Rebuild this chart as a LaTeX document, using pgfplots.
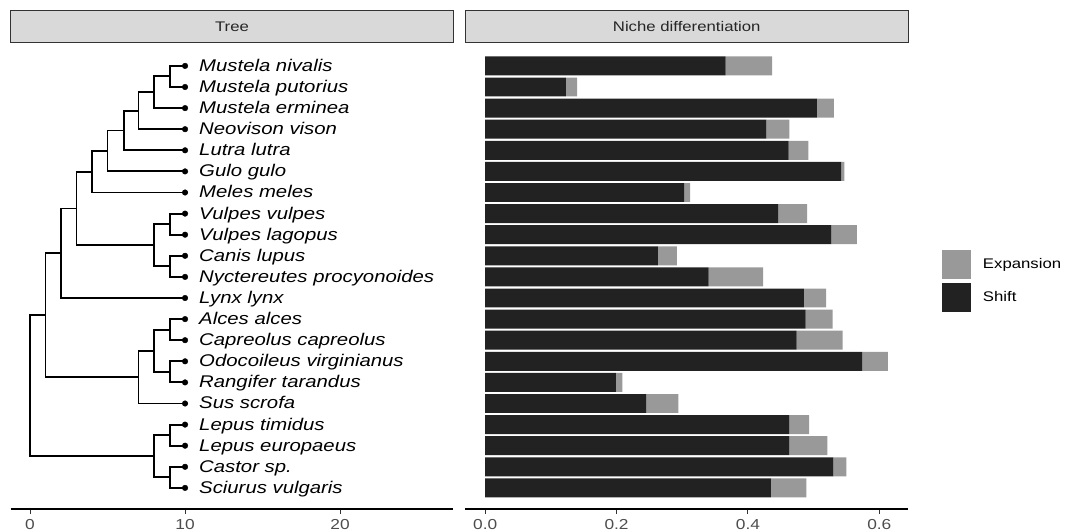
\documentclass[border=0pt]{standalone}
\usepackage{fontspec}
\setmainfont{Liberation Sans}[FakeStretch=1.2]
\usepackage{pgfplots}
\usepackage{pgfplotstable}
\pgfplotsset{compat=1.18}
\definecolor{shiftc}{HTML}{222222}
\definecolor{expc}{HTML}{999999}
\definecolor{stripfill}{HTML}{D9D9D9}
\definecolor{stripdraw}{HTML}{333333}
\definecolor{ticktext}{HTML}{4D4D4D}

\pgfplotstableread{
y shift exp
21 0.366 0.071
20 0.123 0.017
19 0.505 0.026
18 0.428 0.035
17 0.462 0.030
16 0.542 0.005
15 0.303 0.009
14 0.446 0.044
13 0.527 0.039
12 0.263 0.029
11 0.340 0.083
10 0.485 0.034
9 0.488 0.041
8 0.474 0.070
7 0.574 0.039
6 0.199 0.010
5 0.245 0.049
4 0.463 0.030
3 0.463 0.058
2 0.530 0.020
1 0.435 0.054
}\bardata

\newcommand{\lab}[2]{\node[anchor=base west, inner sep=0pt, yshift=-5.5bp, font=\fontsize{17}{19}\selectfont\itshape] at (axis cs:10.9,#1) {#2};}

\begin{document}
\begin{tikzpicture}
\useasboundingbox (0bp,0bp) rectangle (1073bp,532bp);
% strips
\draw[fill=stripfill, draw=stripdraw, line width=0.8bp] (10.5bp,489.3bp) rectangle (453.5bp,521.3bp);
\node[font=\fontsize{14}{16}\selectfont, text=black!85] at (232bp,505.3bp) {Tree};
\draw[fill=stripfill, draw=stripdraw, line width=0.8bp] (465.5bp,489.3bp) rectangle (908bp,521.3bp);
\node[font=\fontsize{14}{16}\selectfont, text=black!85] at (686.75bp,505.3bp) {Niche differentiation};

\begin{axis}[
 at={(10.7bp,23bp)}, anchor=south west, scale only axis,
 width=442.6bp, height=464.2bp,
 xmin=-1.245, xmax=27.3, ymin=0, ymax=22,
 axis x line*=bottom, axis y line=none,
 axis line style={-, line width=1.5bp, black},
 xtick={0,10,20}, ytick=\empty,
 tick align=outside, major tick length=4.5bp,
 tick style={line width=1bp, color=stripdraw},
 xticklabel style={font=\fontsize{14.5}{16}\selectfont, text=ticktext, inner sep=0pt, yshift=-5.5bp},
 /pgf/number format/assume math mode=true,
 clip=false,
 unbounded coords=jump,
]
\addplot[line width=1.9bp, black, mark=none, line cap=rect] coordinates {
(10,21) (9,21) (9,20) (10,20) (nan,nan)
(9,20.5) (8,20.5) (8,19) (10,19) (nan,nan)
(8,19.75) (7,19.75) (7,18) (10,18) (nan,nan)
(7,18.875) (6.05,18.875) (6.05,17) (10,17) (nan,nan)
(6.05,17.9375) (5,17.9375) (5,16) (10,16) (nan,nan)
(5,16.96875) (4,16.96875) (4,15) (10,15) (nan,nan)
(10,14) (9,14) (9,13) (10,13) (nan,nan)
(10,12) (9,12) (9,11) (10,11) (nan,nan)
(9,13.5) (8,13.5) (8,11.5) (9,11.5) (nan,nan)
(4,15.984375) (3,15.984375) (3,12.5) (8,12.5) (nan,nan)
(3,14.2421875) (2,14.2421875) (2,10) (10,10) (nan,nan)
(10,9) (9,9) (9,8) (10,8) (nan,nan)
(10,7) (9,7) (9,6) (10,6) (nan,nan)
(9,8.5) (8,8.5) (8,6.5) (9,6.5) (nan,nan)
(8,7.5) (7,7.5) (7,5) (10,5) (nan,nan)
(2,12.12109) (1,12.12109) (1,6.25) (7,6.25) (nan,nan)
(10,4) (9,4) (9,3) (10,3) (nan,nan)
(10,2) (9,2) (9,1) (10,1) (nan,nan)
(9,3.5) (8,3.5) (8,1.5) (9,1.5) (nan,nan)
(1,9.18555) (0,9.18555) (0,2.5) (8,2.5)
};
\addplot[only marks, mark=*, mark size=2.8bp, black] coordinates {
(10,1) (10,2) (10,3) (10,4) (10,5) (10,6) (10,7) (10,8) (10,9) (10,10) (10,11)
(10,12) (10,13) (10,14) (10,15) (10,16) (10,17) (10,18) (10,19) (10,20) (10,21)};
\lab{21}{Mustela nivalis}
\lab{20}{Mustela putorius}
\lab{19}{Mustela erminea}
\lab{18}{Neovison vison}
\lab{17}{Lutra lutra}
\lab{16}{Gulo gulo}
\lab{15}{Meles meles}
\lab{14}{Vulpes vulpes}
\lab{13}{Vulpes lagopus}
\lab{12}{Canis lupus}
\lab{11}{Nyctereutes procyonoides}
\lab{10}{Lynx lynx}
\lab{9}{Alces alces}
\lab{8}{Capreolus capreolus}
\lab{7}{Odocoileus virginianus}
\lab{6}{Rangifer tarandus}
\lab{5}{Sus scrofa}
\lab{4}{Lepus timidus}
\lab{3}{Lepus europaeus}
\lab{2}{Castor sp.}
\lab{1}{Sciurus vulgaris}
\end{axis}

\begin{axis}[
 at={(465bp,23bp)}, anchor=south west, scale only axis,
 width=443bp, height=464.2bp,
 xmin=-0.0307, xmax=0.6437, ymin=0, ymax=22,
 xbar stacked, bar width=0.9,
 axis x line*=bottom, axis y line=none,
 axis line style={-, line width=1.5bp, black},
 xtick={0,0.2,0.4,0.6}, ytick=\empty,
 tick align=outside, major tick length=4.5bp,
 tick style={line width=1bp, color=stripdraw},
 xticklabel style={font=\fontsize{14.5}{16}\selectfont, text=ticktext, inner sep=0pt, yshift=-5.5bp,
   /pgf/number format/.cd, fixed, fixed zerofill, precision=1},
 /pgf/number format/assume math mode=true,
 clip=false,
 reverse legend,
 legend cell align=left,
 legend style={at={(axis description cs:1.076,0.558)}, anchor=north west,
   draw=none, fill=none, inner sep=0pt, outer sep=0pt,
   row sep=3.4bp, column sep=12bp,
   font=\fontsize{14}{16}\selectfont,
   nodes={inner sep=0pt, outer sep=0pt}},
 legend image code/.code={\fill[#1] (0bp,-14.65bp) rectangle (29.3bp,14.65bp);},
]
\addplot[fill=shiftc, draw=none] table[x=shift, y=y] {\bardata};
\addplot[fill=expc, draw=none] table[x=exp, y=y] {\bardata};
\legend{Shift, Expansion}
\end{axis}
\end{tikzpicture}
\end{document}
